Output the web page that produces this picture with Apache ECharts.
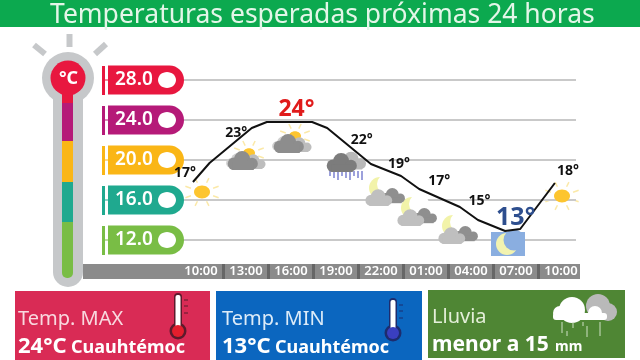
<!DOCTYPE html>
<html>
<head>
<meta charset="utf-8">
<script src="https://cdn.jsdelivr.net/npm/echarts@6/dist/echarts.min.js"></script>
<style>
  html, body { margin: 0; padding: 0; background: #fff; }
  #main { width: 640px; height: 360px; }
</style>
</head>
<body>
<div id="main"></div>
<script>
// eje horizontal
const hourLabels = ["10:00", "13:00", "16:00", "19:00", "22:00", "01:00", "04:00", "07:00", "10:00"];
// horas desde el inicio y temperatura de la linea
const lineHours = [0, 1.1, 3.9, 4.9, 7.9, 8.9, 11.8, 13.8, 15, 17.7, 18.9, 20.7, 21.7, 24];
const lineTemps = [17.8, 19.7, 23.2, 23.8, 23.8, 23.2, 19.6, 18.4, 17.1, 15.3, 14, 12.9, 13.1, 17.7];
// temperaturas rotuladas, una cada tres horas
const labelHours = [0, 3, 6, 9, 12, 15, 18, 21, 24];
const labelTemps = [17, 23, 24, 22, 19, 17, 15, 13, 18];
const labelOffsets = [[-8, -17], [-2, 3], [13, -11], [33, 0], [25, -6], [20, -9], [15, -9], [6, -12], [13, -9]];

const font = '"Noto Sans", sans-serif';
const tierColors = { 28: "#e8173f", 24: "#b51a78", 20: "#fab616", 16: "#1fa98f", 12: "#79bd45" };

const chart = echarts.init(document.getElementById("main"));

// piezas de dibujo
function disc(cx, cy, r, fill, z) {
  return { type: "circle", shape: { cx, cy, r }, style: { fill }, z: z || 5, silent: true };
}
function oval(cx, cy, rx, ry, fill, z) {
  return { type: "ellipse", shape: { cx, cy, rx, ry }, style: { fill }, z: z || 5, silent: true };
}
function box(x, y, width, height, fill, z, r) {
  return { type: "rect", shape: { x, y, width, height, r: r || 0 }, style: { fill }, z: z || 5, silent: true };
}
function stroke(x1, y1, x2, y2, color, width, z) {
  return { type: "line", shape: { x1, y1, x2, y2 }, style: { stroke: color, lineWidth: width || 1 }, z: z || 5, silent: true };
}
function label(text, x, y, size, weight, fill) {
  return {
    type: "text", x, y, z: 8, silent: true,
    style: { text, fill, fontFamily: font, fontSize: size, fontWeight: weight, verticalAlign: "middle" }
  };
}
function cloud(x, y, s, fill, z) {
  return [
    disc(x - 10 * s, y + 3 * s, 7 * s, fill, z),
    disc(x - 1 * s, y - 2 * s, 9 * s, fill, z),
    disc(x + 10 * s, y + 3 * s, 6.5 * s, fill, z),
    box(x - 12 * s, y + 2 * s, 24 * s, 8 * s, fill, z)
  ];
}
function sun(x, y, r) {
  const out = [oval(x, y, r, r * 0.8, "#fdc52f", 5)];
  for (let a = 0; a < 8; a++) {
    const t = a * Math.PI / 4 + Math.PI / 8;
    const c = Math.cos(t), k = Math.sin(t);
    out.push(stroke(x + c * (r + 4), y + k * (r + 2), x + c * (r + 10), y + k * (r + 7), "#fbe9a8", 1.5, 4));
  }
  return out;
}
function cloudSun(x, y) {
  return [
    ...sun(x + 3, y - 7, 6),
    ...cloud(x - 8, y + 1, 0.7, "#cfcfcf", 5),
    ...cloud(x + 8, y + 2, 0.7, "#bdbdbd", 5),
    ...cloud(x - 3, y + 1, 0.9, "#8d8d8d", 6)
  ];
}
function rainCloud(x, y) {
  const out = [...cloud(x + 8, y - 2, 0.85, "#b9b9b9", 5), ...cloud(x - 2, y, 0.9, "#7c7c7c", 6)];
  [-14, -10, -6, -2, 2, 6, 10, 14, 18].forEach((dx, i) => {
    out.push(stroke(x + dx, y + 8, x + dx, y + 13 + (i % 3) * 2, "#5a62c4", 1.2, 5));
  });
  return out;
}
function moonCloud(x, y) {
  return [
    disc(x - 2, y - 9, 11, "#f2f3a9", 5),
    disc(x + 5, y - 13, 10, "#ffffff", 5),
    ...cloud(x + 11, y - 1, 0.72, "#8f8f8f", 6),
    ...cloud(x - 3, y + 1, 0.8, "#bfbfbf", 7)
  ];
}
function thermoIcon(x, top, bulbY, bulbFill, line) {
  return [
    box(x - 4, top, 8, bulbY - top, line, 6, 4),
    disc(x, bulbY, 8.5, line, 6),
    box(x - 2.5, top + 2, 5, bulbY - top, "#fff", 7, 2),
    disc(x, bulbY, 6, bulbFill, 8),
    stroke(x + 6, top + 7, x + 10, top + 7, line, 1, 6),
    stroke(x + 6, top + 13, x + 10, top + 13, line, 1, 6),
    stroke(x + 6, top + 20, x + 10, top + 20, line, 1, 6)
  ];
}

const decor = [
  box(0, 0, 640, 27, "#0ca94f", 1),
  // termometro
  stroke(34, 45, 45, 54, "#c6c8ca", 6, 1),
  stroke(69.5, 34, 69.5, 47, "#c6c8ca", 6, 1),
  stroke(106, 44, 95, 54, "#c6c8ca", 6, 1),
  disc(68, 78, 26, "#c6c8ca", 1),
  box(53, 78, 30, 209, "#c6c8ca", 1, [0, 0, 15, 15]),
  box(62, 78, 11, 26, "#e8173f", 2),
  box(62, 103, 11, 38, "#b51a78", 2),
  box(62, 141, 11, 41, "#fab616", 2),
  box(62, 182, 11, 40, "#1fa98f", 2),
  box(62, 222, 11, 56, "#79bd45", 2, [0, 0, 5, 5]),
  disc(68, 78, 17.5, "#e8173f", 3),
  { type: "text", x: 68.5, y: 79, z: 8, silent: true,
    style: { text: "°C", fill: "#fff", fontFamily: font, fontSize: 18, fontWeight: 700, align: "center", verticalAlign: "middle" } },
  // banda del eje
  box(83, 264, 497, 15, "#8b8b8b", 1),
  box(176, 264, 5, 15, "#8b8b8b", 6),
  box(580, 262, 7, 19, "#fff", 6),
  // iconos
  ...sun(202, 192, 8),
  ...cloudSun(246, 160),
  ...cloudSun(292, 143),
  ...rainCloud(344, 163),
  ...moonCloud(382, 197),
  ...moonCloud(414, 217),
  ...moonCloud(455, 235),
  ...sun(562, 196, 8),
  box(491, 232, 34, 24, "#8aaee0", 5),
  disc(507, 244, 11, "#f2f3b0", 6),
  disc(514, 240, 10.5, "#8aaee0", 6),
  // tarjetas
  box(15, 291, 195, 69, "#d92b55", 1),
  box(216, 291, 206, 69, "#0b66bf", 1),
  box(428, 290, 197, 68, "#4f8634", 1),
  label("Temp. MAX", 18, 319, 20, 400, "#f8d9df"),
  label("24°C", 18, 347, 22, 700, "#fff"),
  label("Cuauhtémoc", 71, 348, 18, 700, "#fff"),
  label("Temp. MIN", 222, 319, 20, 400, "#dcebf8"),
  label("13°C", 222, 347, 22, 700, "#fff"),
  label("Cuauhtémoc", 275, 348, 18, 700, "#fff"),
  label("Lluvia", 432, 317, 20, 400, "#e4efd9"),
  label("menor a 15", 432, 345, 21, 700, "#fff"),
  label("mm", 555, 347, 14, 700, "#fff"),
  ...thermoIcon(178, 293, 331, "#e31e2d", "#5d1a2c"),
  ...thermoIcon(393, 298, 333, "#3a3fc0", "#1d2c6e"),
  // nube de lluvia
  disc(598, 306, 12, "#b9b9b9", 5),
  disc(608, 312, 9, "#b9b9b9", 5),
  disc(572, 310, 13, "#fff", 6),
  disc(560, 313, 7, "#fff", 6),
  disc(595, 313, 7, "#fff", 6),
  box(553, 313, 54, 7, "#fff", 6, 3),
  ...[[562, 322, 333], [567, 331, 336], [573, 322, 328], [583, 322, 326], [587, 326, 337], [600, 322, 336]]
    .map(d => stroke(d[0], d[1], d[0], d[2], "#cfe0c4", 1, 6))
];

const option = {
  backgroundColor: "#ffffff",
  animation: false,
  title: {
    text: "Temperaturas esperadas próximas 24 horas",
    left: 45,
    top: -3,
    textStyle: { color: "#e3f6e8", fontFamily: font, fontSize: 26.5, fontWeight: 400 },
    z: 9
  },
  grid: [
    { left: 183, right: 64, top: 80, bottom: 120 },
    { left: 178.5, width: 405, top: 100, bottom: 81 }
  ],
  xAxis: [
    { type: "value", gridIndex: 0, min: -0.66, max: 25.4, show: false },
    {
      type: "category", gridIndex: 1, data: hourLabels, z: 3,
      axisLine: { show: false },
      axisTick: { show: true, inside: true, length: 15, lineStyle: { color: "#666", width: 3 } },
      axisLabel: {
        inside: true, margin: 1, interval: 0, color: "#fff",
        fontFamily: font, fontSize: 13, fontWeight: 600
      }
    }
  ],
  yAxis: [
    {
      type: "value", gridIndex: 0, min: 12, max: 28, interval: 4,
      axisLine: { show: false },
      axisTick: { show: false },
      splitLine: { lineStyle: { color: "#c9c9c9", width: 2 } },
      z: 4,
      axisLabel: {
        margin: -1,
        formatter: v => "{t" + v + "|" + v.toFixed(1) + "}",
        rich: Object.fromEntries(Object.keys(tierColors).map(k => ["t" + k, {
          backgroundColor: tierColors[k], color: "#fff", width: 69, height: 29,
          padding: [0, 0, 0, 7], borderRadius: [0, 15, 15, 0], align: "left",
          fontFamily: font, fontSize: 19, fontWeight: 600
        }]))
      }
    },
    { type: "value", gridIndex: 1, show: false }
  ],
  graphic: { elements: decor },
  series: [
    {
      type: "line", xAxisIndex: 0, yAxisIndex: 0, z: 10,
      data: lineHours.map((h, i) => [h, lineTemps[i]]),
      showSymbol: false, smooth: false,
      lineStyle: { color: "#111", width: 2 }
    },
    {
      type: "scatter", xAxisIndex: 0, yAxisIndex: 0, z: 11, symbolSize: 0,
      itemStyle: { opacity: 1 },
      data: labelHours.map((h, i) => {
        const v = labelTemps[i];
        const big = v === 24 || v === 13;
        return {
          value: [h, v],
          label: {
            show: true, position: "inside", offset: labelOffsets[i], opacity: 1,
            formatter: v + "°", fontFamily: font, fontWeight: 700,
            fontSize: v === 24 ? 23 : v === 13 ? 25 : 14,
            color: !big ? "#111" : v === 24 ? "#e01b1b" : "#2d4e8e"
          }
        };
      })
    }
  ]
};
chart.setOption(option);

// barra fina y ovalo blanco de cada etiqueta, siguiendo al eje
const tierMarks = [];
Object.keys(tierColors).forEach(k => {
  const y = chart.convertToPixel({ yAxisIndex: 0 }, Number(k));
  tierMarks.push(box(102, y - 14, 3, 29, tierColors[k], 5));
  tierMarks.push(stroke(105, y, 108, y, tierColors[k], 1, 5));
  tierMarks.push(oval(167, y, 9, 8, "#fff", 5));
});
chart.setOption({ graphic: { elements: decor.concat(tierMarks) } });
</script>
</body>
</html>
